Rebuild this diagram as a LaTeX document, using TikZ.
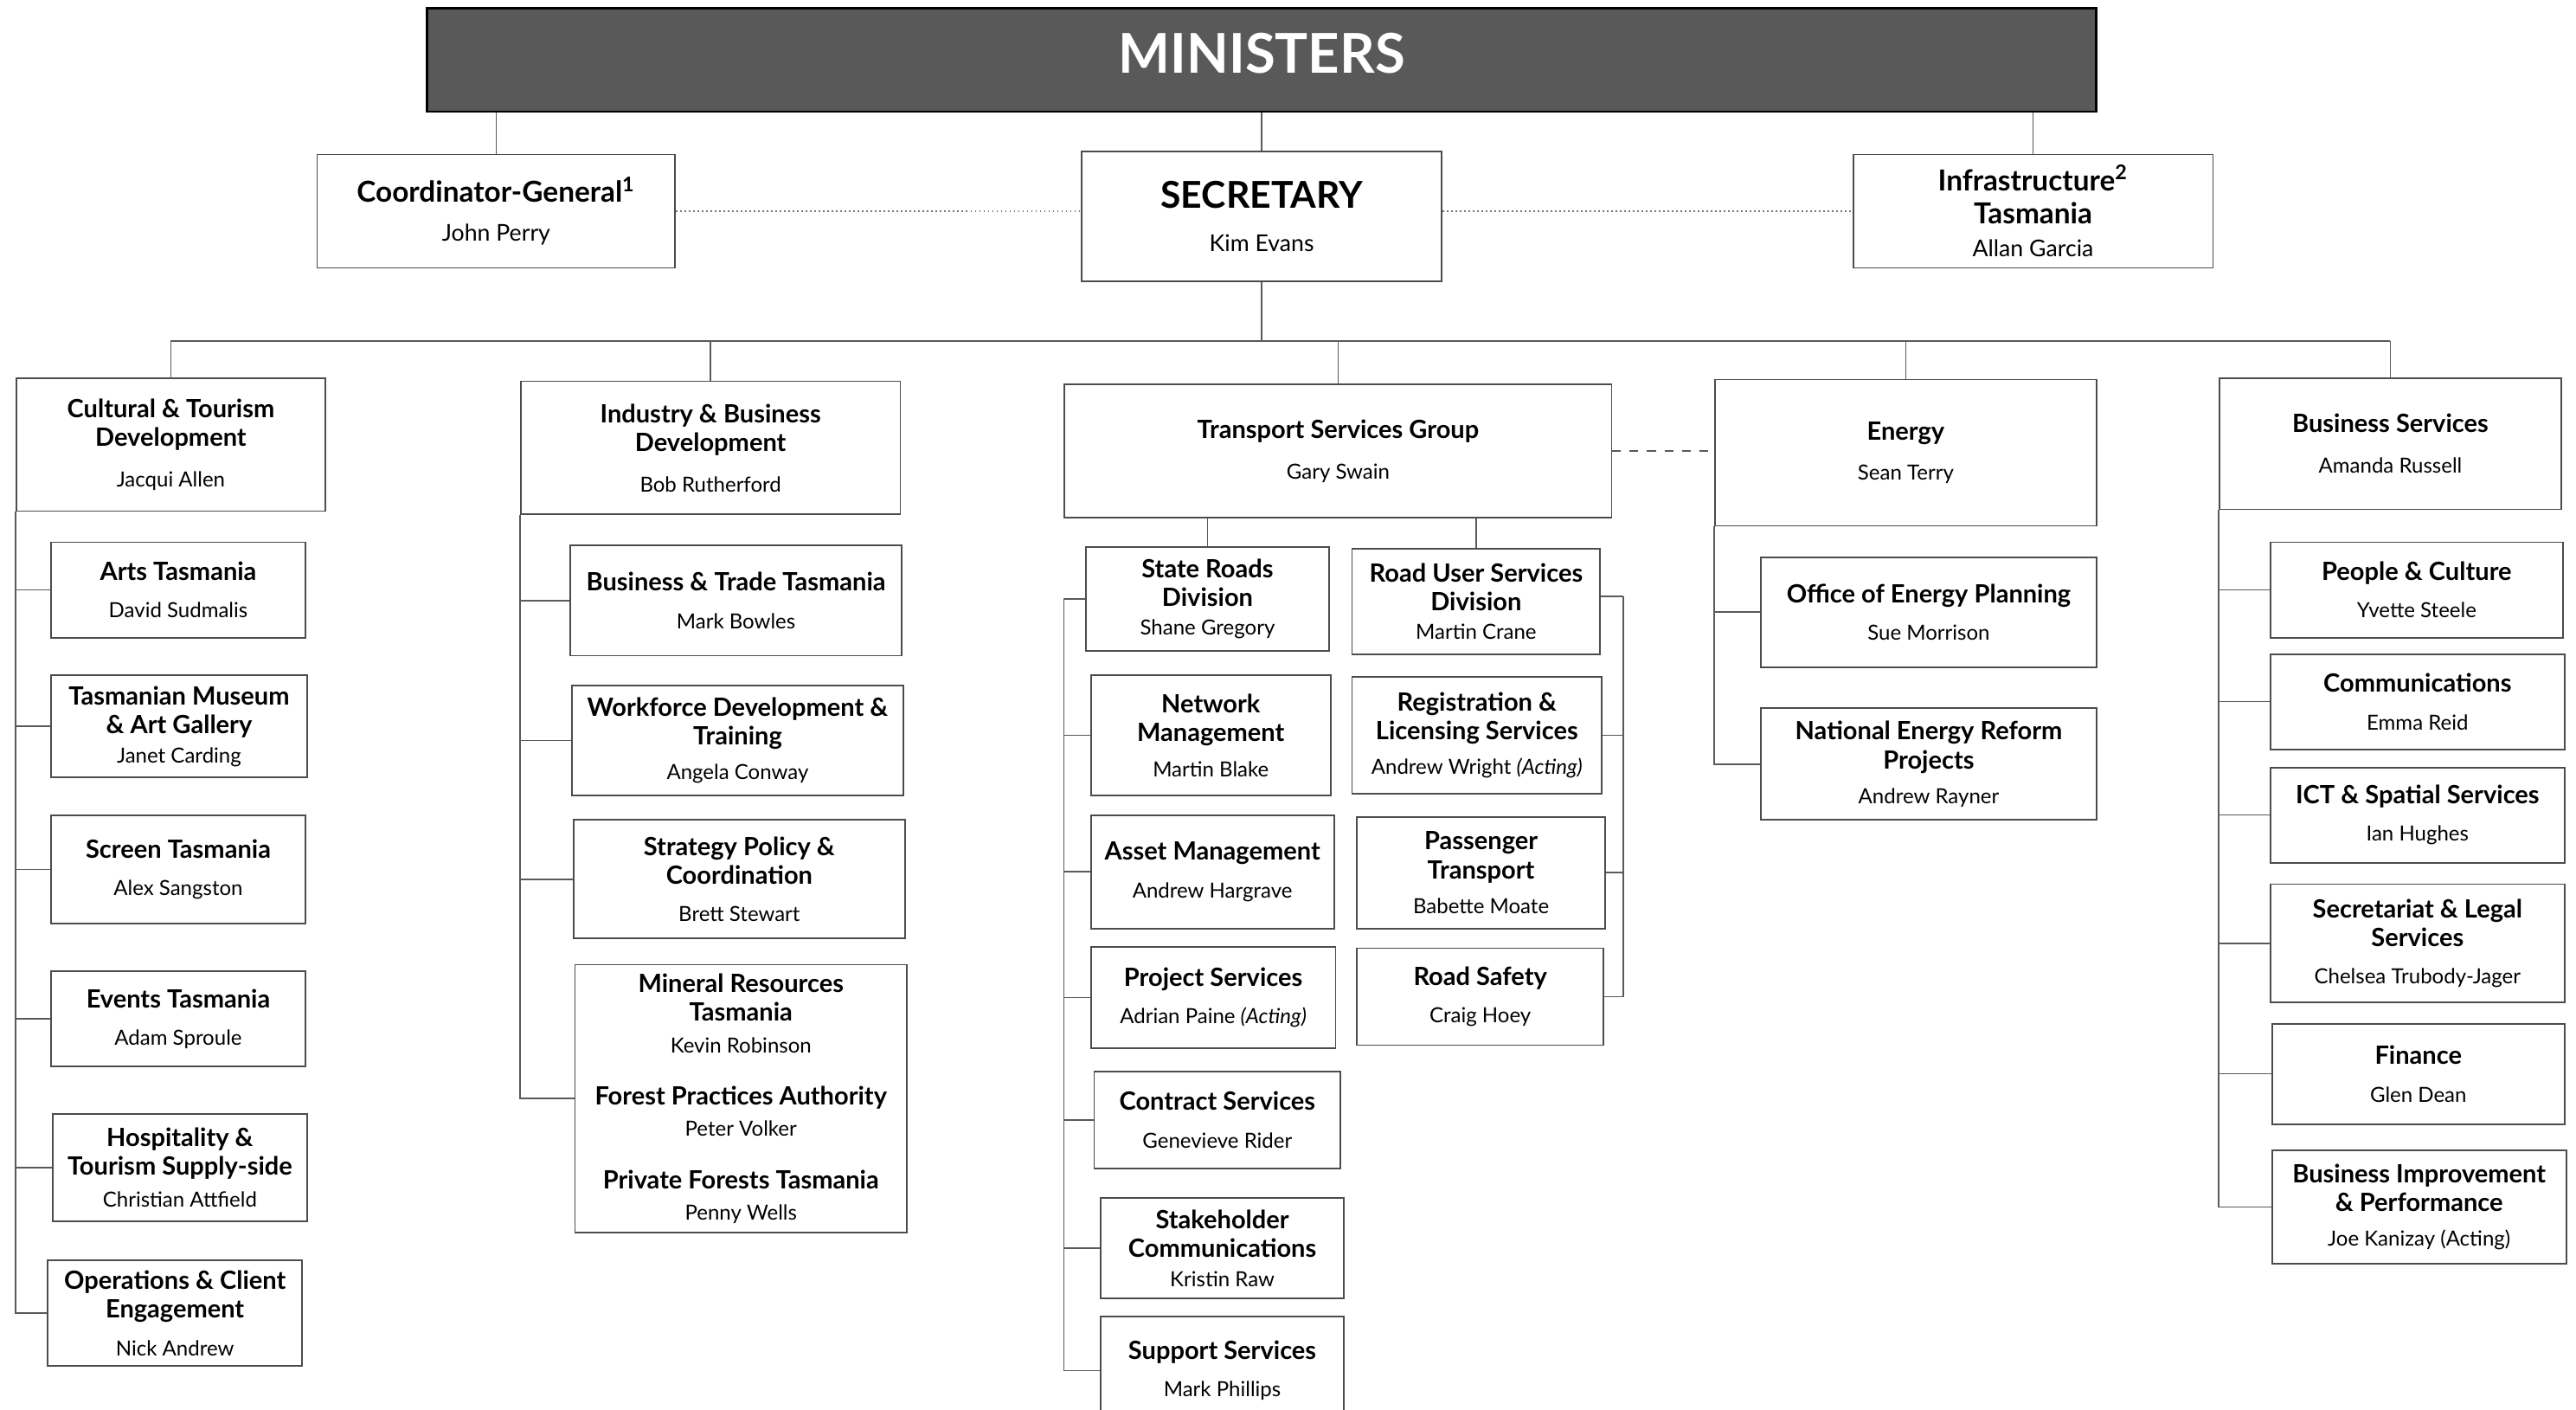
\documentclass[tikz,border=0pt]{standalone}
\usepackage{fontspec}
\setmainfont{Lato}
\usepackage{tikz}
\usetikzlibrary{positioning, calc}

\newcommand{\hdsize}{\fontsize{8.7}{10}\selectfont\bfseries}
\newcommand{\nmsize}{\fontsize{7.2}{10}\selectfont\mdseries}

\begin{document}
\begin{tikzpicture}[
  x=0.02cm, y=-0.02cm,
  every node/.style={font=\hdsize},
  wh/.style 2 args={minimum width=#1*0.02cm, minimum height=#2*0.02cm},
  unit/.style={draw=black!70, line width=0.55pt, fill=white, align=center, inner sep=1pt},
  top/.style={unit, font=\fontsize{10}{11.5}\selectfont\bfseries},
  conn/.style={draw=black!65, line width=0.45pt},
  link/.style={draw=black!55, line width=0.5pt, densely dotted}
]
\useasboundingbox (0,0) rectangle (1568,858);

% Ministers and the top row
\node[draw=black, line width=0.7pt, fill=black!65, text=white, wh={1016}{63},
      font=\fontsize{19}{22}\selectfont\bfseries] (min) at (768,36.5) {\raisebox{5pt}{MINISTERS}};
\node[top, wh={218}{69}] (coord) at (302,128.5)
  {Coordinator-General\textsuperscript{1}\\[2pt]\fontsize{8}{11.5}\selectfont\mdseries John Perry};
\node[unit, wh={219}{79}, font=\fontsize{12.8}{13}\selectfont\bfseries] (sec) at (768,131.5)
  {SECRETARY\\[2pt]\fontsize{8}{13}\selectfont\mdseries Kim Evans};
\node[top, wh={219}{69}] (infra) at (1237.5,128.5)
  {Infrastructure\textsuperscript{2}\\Tasmania\\\fontsize{8}{11.5}\selectfont\mdseries Allan Garcia};

\draw[conn] (coord.north) -- (coord.north |- min.south);
\draw[conn] (sec.north) -- (sec.north |- min.south);
\draw[conn] (infra.north) -- (infra.north |- min.south);
\draw[link] (coord.east) -- (coord.east -| sec.west);
\draw[link] (infra.west -| sec.east) -- (infra.west);

% Group heads
\node[unit, wh={188}{81}] (cult) at (104,270.5)
  {Cultural \& Tourism\\Development\\[4pt]\nmsize Jacqui Allen};
\node[unit, wh={231}{81}] (ibd) at (432.5,272.5)
  {Industry \& Business\\Development\\[4pt]\nmsize Bob Rutherford};
\node[unit, wh={333}{81}] (tsg) at (814.5,274.5)
  {Transport Services Group\\[4pt]\nmsize Gary Swain};
\node[unit, wh={232}{89}] (energy) at (1160,275.5)
  {Energy\\[4pt]\nmsize Sean Terry};
\node[unit, wh={208}{80}] (bsvc) at (1455,270)
  {Business Services\\[4pt]\nmsize Amanda Russell};

\coordinate (bus) at ($(sec.south)+(0,36)$);
\draw[conn] (sec.south) -- (bus);
\draw[conn] (cult.north |- bus) -- (bsvc.north |- bus);
\foreach \g in {cult,ibd,tsg,energy,bsvc}
  \draw[conn] (\g.north) -- (\g.north |- bus);
\draw[conn, dashed] (tsg.east) -- (tsg.east -| energy.west);

% Cultural & Tourism Development
\node[unit, wh={155}{58}] (arts) at (108.5,359)
  {Arts Tasmania\\[3pt]\nmsize David Sudmalis};
\node[unit, wh={156}{62}] (tmag) at (109,442)
  {Tasmanian Museum\\\& Art Gallery\\[0pt]\nmsize Janet Carding};
\node[unit, wh={155}{66}] (screen) at (108.5,529)
  {Screen Tasmania\\[3pt]\nmsize Alex Sangston};
\node[unit, wh={155}{58}] (events) at (108.5,620)
  {Events Tasmania\\[3pt]\nmsize Adam Sproule};
\node[unit, wh={155}{65}] (hosp) at (109.5,710.5)
  {Hospitality \&\\Tourism Supply-side\\[1pt]\nmsize Christian Attfield};
\node[unit, wh={155}{64}] (ops) at (106.5,799)
  {Operations \& Client\\Engagement\\[3pt]\nmsize Nick Andrew};
\foreach \c in {arts,tmag,screen,events,hosp,ops}
  \draw[conn] (cult.south west) |- (\c.west);

% Industry & Business Development
\node[unit, wh={202}{67}] (btt) at (448,365.5)
  {Business \& Trade Tasmania\\[3pt]\nmsize Mark Bowles};
\node[unit, wh={202}{67}] (wdt) at (449,450.5)
  {Workforce Development \&\\Training\\[2pt]\nmsize Angela Conway};
\node[unit, wh={202}{72}] (spc) at (450,535)
  {Strategy Policy \&\\Coordination\\[3pt]\nmsize Brett Stewart};
\node[unit, wh={202}{163}] (mrt) at (451,668.5)
  {Mineral Resources\\Tasmania\\[1pt]{\nmsize Kevin Robinson}\\[8pt]
   Forest Practices Authority\\[1pt]{\nmsize Peter Volker}\\[8pt]
   Private Forests Tasmania\\[1pt]\nmsize Penny Wells};
\foreach \c in {btt,wdt,spc,mrt}
  \draw[conn] (ibd.south west) |- (\c.west);

% Transport Services Group
\node[unit, wh={148}{63}] (srd) at (735,364.5)
  {State Roads\\Division\\[0pt]\nmsize Shane Gregory};
\node[unit, wh={146}{73}] (netm) at (737,447.5)
  {Network\\Management\\[2pt]\nmsize Martin Blake};
\node[unit, wh={148}{69}] (asset) at (738,530.5)
  {Asset Management\\[3pt]\nmsize Andrew Hargrave};
\node[unit, wh={149}{62}] (proj) at (738.5,607)
  {Project Services\\[3pt]\nmsize Adrian Paine \textit{(Acting)}};
\node[unit, wh={150}{59}] (contr) at (741,681.5)
  {Contract Services\\[3pt]\nmsize Genevieve Rider};
\node[unit, wh={148}{61}] (stake) at (744,759.5)
  {Stakeholder\\Communications\\[0pt]\nmsize Kristin Raw};
\node[unit, wh={148}{66}] (supp) at (744,834)
  {Support Services\\[3pt]\nmsize Mark Phillips};

\node[unit, wh={151}{64}] (rusd) at (898.5,366)
  {Road User Services\\Division\\[0pt]\nmsize Martin Crane};
\node[unit, wh={152}{71}] (regl) at (899,447.5)
  {Registration \&\\Licensing Services\\[2pt]\nmsize Andrew Wright \textit{(Acting)}};
\node[unit, wh={151}{68}] (pass) at (901.5,531)
  {Passenger\\Transport\\[2pt]\nmsize Babette Moate};
\node[unit, wh={150}{59}] (rsafe) at (901,606.5)
  {Road Safety\\[3pt]\nmsize Craig Hoey};

\draw[conn] (srd.north) -- (srd.north |- tsg.south);
\draw[conn] (rusd.north) -- (rusd.north |- tsg.south);
\coordinate (srdbar) at (tsg.west |- srd.west);
\draw[conn] (srdbar) -- (srd.west);
\foreach \c in {netm,asset,proj,contr,stake,supp}
  \draw[conn] (srdbar) |- (\c.west);
\coordinate (rusbar) at (988,363);
\draw[conn] (rusd.east |- rusbar) -- (rusbar);
\foreach \c in {regl,pass,rsafe}
  \draw[conn] (rusbar) |- (\c.east);

% Energy
\node[unit, wh={204}{67}] (oep) at (1174,372.5)
  {Office of Energy Planning\\[3pt]\nmsize Sue Morrison};
\node[unit, wh={204}{68}] (nerp) at (1174,465)
  {National Energy Reform\\Projects\\[2pt]\nmsize Andrew Rayner};
\foreach \c in {oep,nerp}
  \draw[conn] (energy.south west) |- (\c.west);

% Business Services
\node[unit, wh={178}{58}] (pc) at (1471,359)
  {People \& Culture\\[3pt]\nmsize Yvette Steele};
\node[unit, wh={179}{58}] (comm) at (1471.5,427)
  {Communications\\[3pt]\nmsize Emma Reid};
\node[unit, wh={179}{58}] (ict) at (1471.5,496)
  {ICT \& Spatial Services\\[3pt]\nmsize Ian Hughes};
\node[unit, wh={179}{72}] (sls) at (1471.5,574)
  {Secretariat \& Legal\\Services\\[3pt]\nmsize Chelsea Trubody-Jager};
\node[unit, wh={178}{61}] (fin) at (1472,653.5)
  {Finance\\[3pt]\nmsize Glen Dean};
\node[unit, wh={179}{69}] (bip) at (1472.5,734.5)
  {Business Improvement\\\& Performance\\[2pt]\nmsize Joe Kanizay (Acting)};
\foreach \c in {pc,comm,ict,sls,fin,bip}
  \draw[conn] (bsvc.south west) |- (\c.west);

\end{tikzpicture}
\end{document}
